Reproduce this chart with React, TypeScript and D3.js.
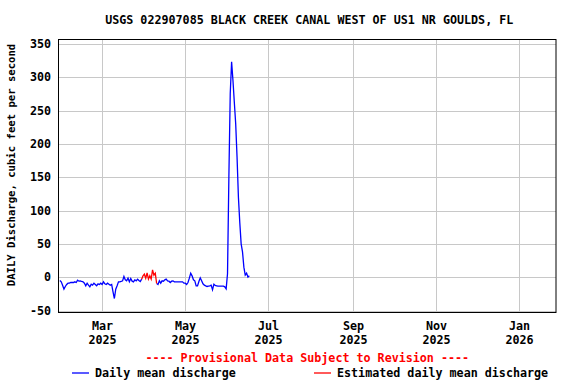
import React from "react";
import * as d3 from "d3";

const title = "USGS 022907085 BLACK CREEK CANAL WEST OF US1 NR GOULDS, FL";
const yAxisLabel = "DAILY Discharge, cubic feet per second";
const provisionalNote = "---- Provisional Data Subject to Revision ----";
const legendDaily = "Daily mean discharge";
const legendEstimated = "Estimated daily mean discharge";

const domainStart = "2025-01-28";
const domainEnd = "2026-01-28";
const startDate = "2025-01-29";
const estimatedFrom = "2025-03-30";
const estimatedTo = "2025-04-10";

const discharge = [
  -5, -7, -12, -18, -14, -11, -9, -9, -8, -8,
  -8, -7, -8, -4.5, -6, -5.5, -6.5, -7, -9, -13,
  -9, -12, -14.5, -10.5, -12, -9, -11, -13, -10, -11,
  -9, -11, -7, -10, -11, -9, -10.5, -12, -11, -22,
  -32, -18, -13, -7, -7, -6.5, -5.5, 1, -4, -5.5,
  -1.5, -7, -2, -6, -7, -4, -5.5, -3, -5, -6.5,
  -3, 2, 4.5, -1.5, 6.5, -3, 2, -3, 11, 3,
  6, -9.5, -11, -5.5, -9, -5.5, -6, -4, -3, -5.5,
  -6, -8, -6, -5.5, -7, -7, -7, -7, -7, -7,
  -7, -9, -9, -11, -8, -1.5, 6, 2, -4, -5.5,
  -13, -13, -6.5, -1, -5.5, -10, -12, -13, -14, -13.5,
  -13, -12, -19, -10.5, -12.5, -13, -13.5, -13.5, -13.5, -13.5,
  -13.5, -14.5, -17.5, 5, 150, 275, 323, 295, 262, 230,
  180, 120, 82, 50, 38, 15, 3, 6, 0, 2,
];

const yTicks = [-50, 0, 50, 100, 150, 200, 250, 300, 350];
const xTickDates = ["2025-03-01", "2025-05-01", "2025-07-01", "2025-09-01", "2025-11-01", "2026-01-01"];
const xTickMonths = ["Mar", "May", "Jul", "Sep", "Nov", "Jan"];
const xTickYears = ["2025", "2025", "2025", "2025", "2025", "2026"];

const FONT = "'DejaVu Sans Mono', 'Liberation Mono', monospace";

export default function App() {
  const left = 58.5, right = 556, top = 39.5, bottom = 312.5;
  const x = d3.scaleUtc().domain([new Date(domainStart), new Date(domainEnd)]).range([left, right]);
  const y = d3.scaleLinear().domain([-53, 356.5]).range([bottom, top]);

  const t0 = new Date(startDate);
  const points = discharge.map((v, i) => ({ date: d3.utcDay.offset(t0, i), v }));
  const estA = new Date(estimatedFrom).getTime();
  const estB = new Date(estimatedTo).getTime();
  const estPoints = points.filter((p) => p.date.getTime() >= estA && p.date.getTime() <= estB);
  const before = points.filter((p) => p.date.getTime() <= estA);
  const after = points.filter((p) => p.date.getTime() >= estB);

  const line = d3
    .line<{ date: Date; v: number }>()
    .x((p) => x(p.date))
    .y((p) => y(p.v));

  const fs = 11.7;
  const cx = (left + right) / 2;

  return (
    <svg width={576} height={384} style={{ position: "absolute", left: 0, top: 0, background: "#fff" }}>
      <rect x={0} y={0} width={576} height={384} fill="#fff" />
      <text x={cx + 2} y={24} textAnchor="middle" fontFamily={FONT} fontWeight="bold" fontSize={fs} fill="#000">
        {title}
      </text>
      {yTicks.map((t) => (
        <g key={"y" + t}>
          <line x1={left} x2={right} y1={Math.round(y(t)) + 0.5} y2={Math.round(y(t)) + 0.5} stroke="#c8c8c8" strokeWidth={1} />
          <text x={51} y={y(t) + 4} textAnchor="end" fontFamily={FONT} fontWeight="bold" fontSize={fs} fill="#000">
            {t}
          </text>
        </g>
      ))}
      {xTickDates.map((d, i) => {
        const xx = Math.round(x(new Date(d))) + 0.5;
        return (
          <g key={"x" + d}>
            <line x1={xx} x2={xx} y1={top} y2={bottom} stroke="#c8c8c8" strokeWidth={1} />
            <text x={xx} y={330} textAnchor="middle" fontFamily={FONT} fontWeight="bold" fontSize={fs} fill="#000">
              {xTickMonths[i]}
            </text>
            <text x={xx} y={344} textAnchor="middle" fontFamily={FONT} fontWeight="bold" fontSize={fs} fill="#000">
              {xTickYears[i]}
            </text>
          </g>
        );
      })}
      <rect x={left} y={top} width={right - left} height={bottom - top} fill="none" stroke="#000" strokeWidth={1} />
      <path d={line(before) || ""} fill="none" stroke="#0000ff" strokeWidth={1.3} />
      <path d={line(after) || ""} fill="none" stroke="#0000ff" strokeWidth={1.3} />
      <path d={line(estPoints) || ""} fill="none" stroke="#ff0000" strokeWidth={1.3} />
      <text
        transform={`translate(15,165) rotate(-90)`}
        textAnchor="middle"
        fontFamily={FONT}
        fontWeight="bold"
        fontSize={10.6}
        fill="#000"
      >
        {yAxisLabel}
      </text>
      <text x={cx} y={362} textAnchor="middle" fontFamily={FONT} fontWeight="bold" fontSize={fs} fill="#ff0000">
        {provisionalNote}
      </text>
      <line x1={72} x2={89} y1={373} y2={373} stroke="#0000ff" strokeWidth={1.3} />
      <text x={95} y={377} fontFamily={FONT} fontWeight="bold" fontSize={fs} fill="#000">
        {legendDaily}
      </text>
      <line x1={314} x2={331} y1={373} y2={373} stroke="#ff0000" strokeWidth={1.3} />
      <text x={337} y={377} fontFamily={FONT} fontWeight="bold" fontSize={fs} fill="#000">
        {legendEstimated}
      </text>
    </svg>
  );
}
